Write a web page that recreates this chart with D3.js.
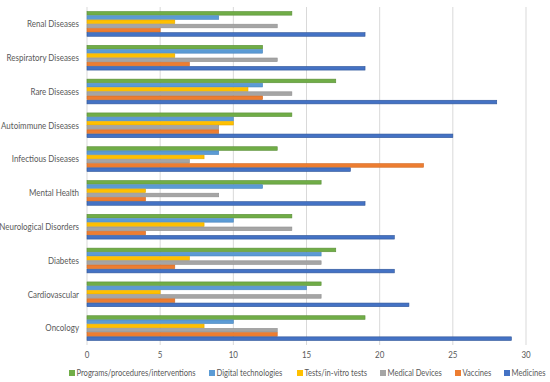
<!DOCTYPE html>
<html>
<head>
<meta charset="utf-8">
<script src="https://cdn.jsdelivr.net/npm/d3@7"></script>
<style>
  body { margin: 0; background: #fff; }
  text { font-family: "Lato", "Liberation Sans", sans-serif; fill: #595959; }
</style>
</head>
<body>
<script>
// categories, top to bottom
var categories = ["Renal Diseases", "Respiratory Diseases", "Rare Diseases", "Autoimmune Diseases",
    "Infectious Diseases", "Mental Health", "Neurological Disorders", "Diabetes", "Cardiovascular", "Oncology"];

var seriesNames = ["Programs/procedures/interventions", "Digital technologies", "Tests/in-vitro tests",
    "Medical Devices", "Vaccines", "Medicines"];

var programs = [14, 12, 17, 14, 13, 16, 14, 17, 16, 19];
var digital  = [9, 12, 12, 10, 9, 12, 10, 16, 15, 10];
var tests    = [6, 6, 11, 10, 8, 4, 8, 7, 5, 8];
var devices  = [13, 13, 14, 9, 7, 9, 14, 16, 16, 13];
var vaccines = [5, 7, 12, 9, 23, 4, 4, 6, 6, 13];
var medicines = [19, 19, 28, 25, 18, 19, 21, 21, 22, 29];

var xTicks = [0, 5, 10, 15, 20, 25, 30];

var colors = ["#70ad47", "#5b9bd5", "#ffc000", "#a5a5a5", "#ed7d31", "#4472c4"];
var strokes = ["#5a8f38", "#4a86bd", "#e0a800", "#8f8f8f", "#d06a24", "#2f5597"];

var values = [programs, digital, tests, devices, vaccines, medicines];

var width = 550, height = 382;
var squeeze = 0.84;   // Lato is wider than the Calibri in the original

var svg = d3.select("body").append("svg")
    .attr("width", width)
    .attr("height", height);

var x = d3.scaleLinear().domain([0, 30]).range([87, 526]);

var y = d3.scaleBand().domain(categories).range([7, 345])
    .paddingInner(0.25).paddingOuter(0.125);

var y1 = d3.scaleBand().domain(d3.range(seriesNames.length)).range([0, y.bandwidth()]);

// gridlines
svg.append("g").selectAll("line").data(xTicks).enter()
    .append("line")
    .attr("x1", function(d) { return x(d); })
    .attr("x2", function(d) { return x(d); })
    .attr("y1", 7)
    .attr("y2", 345)
    .attr("stroke", "#d9d9d9")
    .attr("stroke-width", 1);

// bars
var groups = svg.append("g").selectAll("g").data(categories).enter()
    .append("g")
    .attr("transform", function(d) { return "translate(0," + y(d) + ")"; });

groups.selectAll("rect")
    .data(function(d, i) { return values.map(function(s, j) { return { s: j, v: s[i] }; }); })
    .enter()
    .append("rect")
    .attr("x", x(0))
    .attr("y", function(d) { return y1(d.s) + 0.3; })
    .attr("width", function(d) { return x(d.v) - x(0); })
    .attr("height", y1.bandwidth() - 0.6)
    .attr("fill", function(d) { return colors[d.s]; })
    .attr("stroke", function(d) { return strokes[d.s]; })
    .attr("stroke-width", 0.6);

// category labels
svg.append("g").selectAll("text").data(categories).enter()
    .append("text")
    .attr("transform", function(d) {
        return "translate(79," + (y(d) + y.bandwidth() / 2) + ") scale(" + squeeze + ",1)";
    })
    .attr("dy", "0.35em")
    .attr("text-anchor", "end")
    .style("font-size", "9.5px")
    .text(function(d) { return d; });

// x tick labels
svg.append("g").selectAll("text").data(xTicks).enter()
    .append("text")
    .attr("transform", function(d) { return "translate(" + x(d) + ",355) scale(" + squeeze + ",1)"; })
    .attr("dy", "0.35em")
    .attr("text-anchor", "middle")
    .style("font-size", "9.5px")
    .text(function(d) { return d; });

// legend
var legendX = [69, 209, 297, 380, 455, 504];
var legend = svg.append("g").selectAll("g").data(seriesNames).enter()
    .append("g")
    .attr("transform", function(d, i) { return "translate(" + legendX[i] + ",373)"; });

legend.append("rect")
    .attr("x", 0).attr("y", -3)
    .attr("width", 6).attr("height", 6)
    .attr("fill", function(d, i) { return colors[i]; });

legend.append("text")
    .attr("transform", "translate(7.5,0) scale(0.8,1)")
    .attr("dy", "0.35em")
    .style("font-size", "9.5px")
    .text(function(d) { return d; });
</script>
</body>
</html>
